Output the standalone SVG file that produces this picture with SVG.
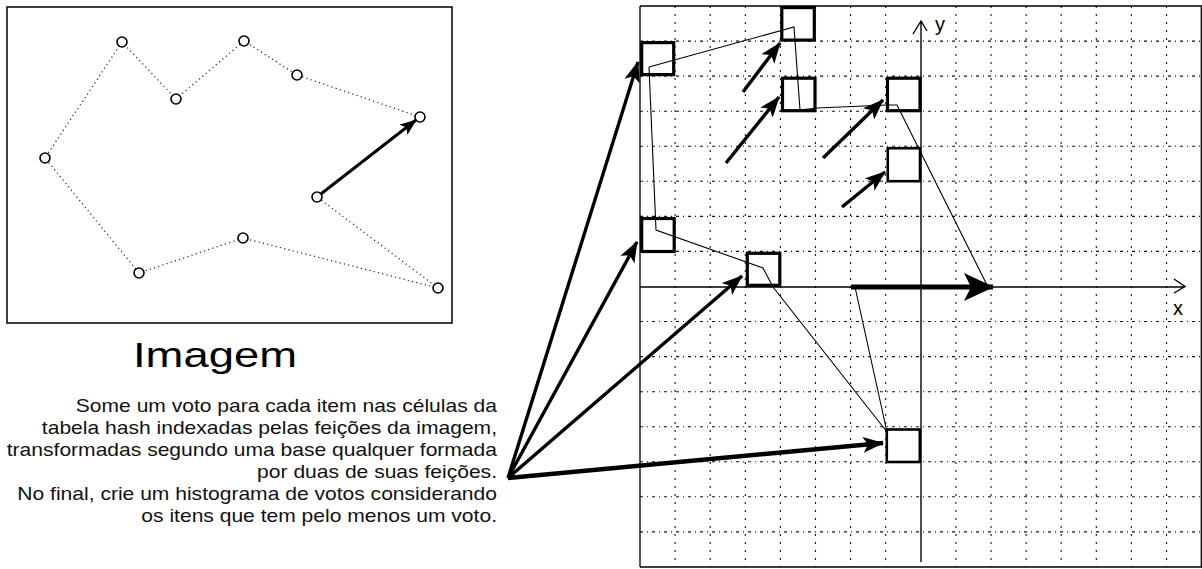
<svg xmlns="http://www.w3.org/2000/svg" width="1202" height="569" viewBox="0 0 1202 569">
  <style>
    .frame { fill: none; stroke: #000; stroke-width: 1.5; }
    .dots { fill: none; stroke: #222; stroke-width: 1.2; stroke-dasharray: 1.2 3.2; }
    .pt { fill: #fff; stroke: #000; stroke-width: 1.6; }
    .gridv { fill: none; stroke: #111; stroke-width: 1.1; stroke-dasharray: 2 6; }
    .gridh { fill: none; stroke: #111; stroke-width: 1.1; stroke-dasharray: 3 4 1 4; }
    .axis { fill: none; stroke: #000; stroke-width: 1.4; }
    .cell { fill: none; stroke: #000; stroke-width: 3.2; }
    .cell-thin { fill: none; stroke: #000; stroke-width: 2.6; }
    .outline { fill: none; stroke: #000; stroke-width: 1.1; }
    .vote { fill: none; stroke: #000; stroke-width: 3.4; }
    .title { font-family: "Liberation Sans", Arial, sans-serif; font-size: 35px; fill: #000; }
    .body { font-family: "Liberation Sans", Arial, sans-serif; font-size: 18px; fill: #111; text-anchor: end; }
    .lbl { font-family: "Liberation Sans", Arial, sans-serif; font-size: 20px; fill: #000; }
  </style>
  <defs>
    <marker id="head" markerUnits="userSpaceOnUse" viewBox="0 0 21 16" markerWidth="21" markerHeight="16" refX="20" refY="8" orient="auto">
      <path d="M0,0 L21,8 L0,16 L5,8 z" fill="#000"/>
    </marker>
    <marker id="head-sm" markerUnits="userSpaceOnUse" viewBox="0 0 17 13" markerWidth="17" markerHeight="13" refX="16" refY="6.5" orient="auto">
      <path d="M0,0 L17,6.5 L0,13 L4,6.5 z" fill="#000"/>
    </marker>
    <marker id="head-lg" markerUnits="userSpaceOnUse" viewBox="0 0 30 28" markerWidth="30" markerHeight="28" refX="29" refY="14" orient="auto">
      <path d="M0,0 L30,14 L0,28 L7,14 z" fill="#000"/>
    </marker>
  </defs>

  <!-- Input image: model points joined by a dotted outline -->
  <g id="image-panel">
    <rect class="frame" x="7" y="7" width="445" height="316"/>
    <polyline class="dots" points="420,117 297,75 244,41 176,99 122,42 45,158 139,273 243,238 438,288 317,197"/>
    <line x1="317" y1="197" x2="416" y2="120" stroke="#000" stroke-width="3" marker-end="url(#head-sm)"/>
    <circle class="pt" cx="122" cy="42" r="5"/>
    <circle class="pt" cx="244" cy="41" r="5"/>
    <circle class="pt" cx="297" cy="75" r="5"/>
    <circle class="pt" cx="176" cy="99" r="5"/>
    <circle class="pt" cx="420" cy="117" r="5"/>
    <circle class="pt" cx="45" cy="158" r="5"/>
    <circle class="pt" cx="317" cy="197" r="5"/>
    <circle class="pt" cx="243" cy="238" r="5"/>
    <circle class="pt" cx="139" cy="273" r="5"/>
    <circle class="pt" cx="438" cy="288" r="5"/>
  </g>

  <g id="title">
    <text class="title" x="215" y="367" text-anchor="middle" textLength="164" lengthAdjust="spacingAndGlyphs">Imagem</text>
  </g>

  <g id="caption" transform="translate(497,0) scale(1.17,1) translate(-497,0)">
    <text class="body" x="497" y="412">Some um voto para cada item nas células da</text>
    <text class="body" x="497" y="434">tabela hash indexadas pelas feições da imagem,</text>
    <text class="body" x="497" y="456">transformadas segundo uma base qualquer formada</text>
    <text class="body" x="497" y="478">por duas de suas feições.</text>
    <text class="body" x="497" y="500">No final, crie um histograma de votos considerando</text>
    <text class="body" x="497" y="522">os itens que tem pelo menos um voto.</text>
  </g>

  <!-- Hash table grid, 16 x 16 cells -->
  <g id="hash-grid">
    <path class="gridv" d="M675.1,6V567 M710.2,6V567 M745.3,6V567 M780.4,6V567 M815.5,6V567 M850.6,6V567 M885.7,6V567 M955.9,6V567 M991,6V567 M1026.1,6V567 M1061.2,6V567 M1096.3,6V567 M1131.4,6V567 M1166.5,6V567"/>
    <path class="gridh" d="M640,41.1H1201 M640,76.1H1201 M640,111.2H1201 M640,146.2H1201 M640,181.3H1201 M640,216.4H1201 M640,251.4H1201 M640,321.5H1201 M640,356.6H1201 M640,391.7H1201 M640,426.7H1201 M640,461.8H1201 M640,496.8H1201 M640,531.9H1201"/>
    <path class="axis" d="M640,6V567 M640,6H1202 M640,567H1202 M1201.3,6V567" style="stroke-width:1.3"/>
  </g>

  <g id="axes">
    <path class="axis" d="M921,21V562 M913,34L921,21L927,31"/>
    <path class="axis" d="M640,287H1185 M1174,279L1185,286.5L1174,293"/>
    <text class="lbl" x="935" y="31">y</text>
    <text class="lbl" x="1173" y="315">x</text>
  </g>

  <!-- Occupied cells -->
  <g id="cell-a"><rect class="cell" x="641.7" y="42.6" width="32" height="32"/></g>
  <g id="cell-b"><rect class="cell" x="781.8" y="7.6" width="32.5" height="32.5"/></g>
  <g id="cell-c"><rect class="cell" x="782.5" y="78.2" width="32.5" height="32.5"/></g>
  <g id="cell-d"><rect class="cell" x="887.5" y="78.2" width="32.5" height="32.5"/></g>
  <g id="cell-e"><rect class="cell-thin" x="887.8" y="148.2" width="32.2" height="33"/></g>
  <g id="cell-f"><rect class="cell" x="641.7" y="218.5" width="32.5" height="33"/></g>
  <g id="cell-g"><rect class="cell" x="747.3" y="253.3" width="32.5" height="32"/></g>
  <g id="cell-h"><rect class="cell-thin" x="886.8" y="429.5" width="33" height="32.5"/></g>

  <!-- Transformed model outline and vote arrows -->
  <g id="connectors">
    <polyline class="outline" points="649,67 794,27 800,110 817,108 887,105 897,105 988,287"/>
    <polyline class="outline" points="855,287 887,432 773,287 763,268 656,230 649,67"/>
    <line x1="851" y1="287" x2="993" y2="287" stroke="#000" stroke-width="5" marker-end="url(#head-lg)"/>

    <line class="vote" x1="743" y1="92" x2="780" y2="43" marker-end="url(#head)"/>
    <line class="vote" x1="726" y1="163" x2="779" y2="97" marker-end="url(#head)"/>
    <line class="vote" x1="823" y1="158" x2="883" y2="100" marker-end="url(#head)"/>
    <line class="vote" x1="842" y1="207" x2="885" y2="172" marker-end="url(#head)"/>

    <line class="vote" x1="508" y1="478" x2="638" y2="62" marker-end="url(#head)"/>
    <line class="vote" x1="508" y1="478" x2="637" y2="242" marker-end="url(#head)"/>
    <line class="vote" x1="508" y1="478" x2="742" y2="276" marker-end="url(#head)"/>
    <line class="vote" x1="508" y1="478" x2="883" y2="443" style="stroke-width:4.5" marker-end="url(#head)"/>
  </g>
</svg>
